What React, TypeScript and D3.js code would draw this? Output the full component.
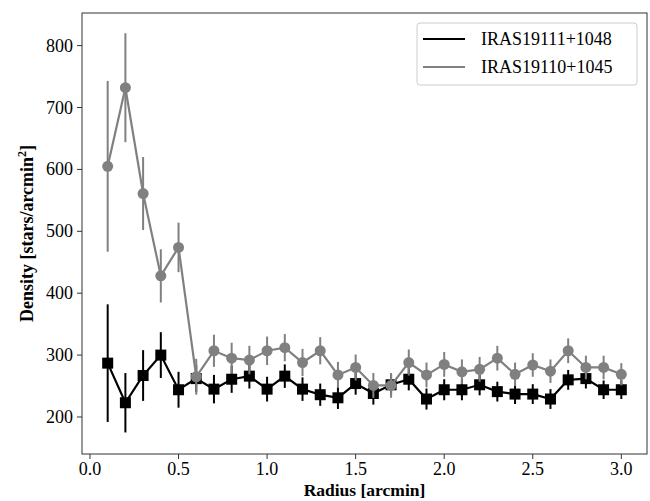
import React from "react";
import * as d3 from "d3";

const radius = [0.1,0.2,0.3,0.4,0.5,0.6,0.7,0.8,0.9,1.0,1.1,1.2,1.3,1.4,1.5,1.6,1.7,1.8,1.9,2.0,2.1,2.2,2.3,2.4,2.5,2.6,2.7,2.8,2.9,3.0];
const blackVals = [287,223,267,300,244,262,245,261,266,245,266,245,236,231,254,238,252,261,229,244,244,252,241,237,237,229,260,262,244,244];
const blackErr = [95,48,41,37,29,22,23,22,20,20,19,19,18,18,18,18,17,18,17,17,17,17,16,16,16,16,16,16,15,15];
const grayVals = [605,732,561,428,474,265,307,295,292,307,312,288,307,268,280,251,251,288,268,285,273,277,295,269,284,274,307,280,280,269];
const grayErr = [138,88,59,43,40,29,26,25,23,23,22,22,22,21,21,20,20,21,20,20,20,20,20,19,19,19,20,19,19,18];
const seriesNames = ["IRAS19111+1048", "IRAS19110+1045"];
const xTicks = [0.0,0.5,1.0,1.5,2.0,2.5,3.0];
const yTicks = [200,300,400,500,600,700,800];

export default function App() {
  const W = 650, H = 501;
  const left = 82, right = 647, top = 13, bottom = 454;
  const x = d3.scaleLinear().domain([-0.045, 3.145]).range([left, right]);
  const y = d3.scaleLinear().domain([140.2, 852.7]).range([bottom, top]);
  const font = "'Liberation Serif', 'Times New Roman', serif";
  const line = d3.line<[number, number]>().x(d => x(d[0])).y(d => y(d[1]));
  const black = "#000000", gray = "#808080";
  const bPts = radius.map((r, i) => [r, blackVals[i]] as [number, number]);
  const gPts = radius.map((r, i) => [r, grayVals[i]] as [number, number]);
  const ms = 11;
  return (
    <svg width={W} height={H} style={{ position: "absolute", left: 0, top: 0, background: "#fff" }}>
      <rect x={0} y={0} width={W} height={H} fill="#fff" />
      {/* black series */}
      <g>
        {radius.map((r, i) => (
          <line key={"be" + i} x1={x(r)} x2={x(r)} y1={y(blackVals[i] - blackErr[i])} y2={y(blackVals[i] + blackErr[i])} stroke={black} strokeWidth={2} />
        ))}
        <path d={line(bPts) || ""} fill="none" stroke={black} strokeWidth={2.2} />
        {bPts.map((p, i) => (
          <rect key={"bm" + i} x={x(p[0]) - ms / 2} y={y(p[1]) - ms / 2} width={ms} height={ms} fill={black} />
        ))}
      </g>
      {/* gray series */}
      <g>
        {radius.map((r, i) => (
          <line key={"ge" + i} x1={x(r)} x2={x(r)} y1={y(grayVals[i] - grayErr[i])} y2={y(grayVals[i] + grayErr[i])} stroke={gray} strokeWidth={2} />
        ))}
        <path d={line(gPts) || ""} fill="none" stroke={gray} strokeWidth={2.2} />
        {gPts.map((p, i) => (
          <circle key={"gm" + i} cx={x(p[0])} cy={y(p[1])} r={5.5} fill={gray} />
        ))}
      </g>
      {/* frame */}
      <rect x={left} y={top} width={right - left} height={bottom - top} fill="none" stroke="#333" strokeWidth={1} />
      {/* x ticks */}
      {xTicks.map(t => (
        <g key={"xt" + t}>
          <line x1={x(t)} x2={x(t)} y1={bottom} y2={bottom + 5} stroke="#333" strokeWidth={1} />
          <text x={x(t)} y={bottom + 21} textAnchor="middle" fontFamily={font} fontSize={18} fill="#000">{t.toFixed(1)}</text>
        </g>
      ))}
      {yTicks.map(t => (
        <g key={"yt" + t}>
          <line x1={left - 5} x2={left} y1={y(t)} y2={y(t)} stroke="#333" strokeWidth={1} />
          <text x={left - 9} y={y(t) + 6} textAnchor="end" fontFamily={font} fontSize={18} fill="#000">{t}</text>
        </g>
      ))}
      <text x={(left + right) / 2} y={496} textAnchor="middle" fontFamily={font} fontSize={17.5} fontWeight="bold" fill="#000">Radius [arcmin]</text>
      <text transform={`translate(33, ${(top + bottom) / 2}) rotate(-90)`} textAnchor="middle" fontFamily={font} fontSize={18} fontWeight="bold" fill="#000">
        Density [stars/arcmin<tspan dy={-7} fontSize={12}>2</tspan><tspan dy={7}>]</tspan>
      </text>
      {/* legend */}
      <g>
        <rect x={417} y={23} width={220} height={62} rx={3} fill="#fff" fillOpacity={0.8} stroke="#ccc" strokeWidth={1} />
        <line x1={423} x2={465} y1={39} y2={39} stroke={black} strokeWidth={2.2} />
        <text x={481} y={45} fontFamily={font} fontSize={18} fill="#000">{seriesNames[0]}</text>
        <line x1={423} x2={465} y1={67} y2={67} stroke={gray} strokeWidth={2.2} />
        <text x={481} y={73} fontFamily={font} fontSize={18} fill="#000">{seriesNames[1]}</text>
      </g>
    </svg>
  );
}
